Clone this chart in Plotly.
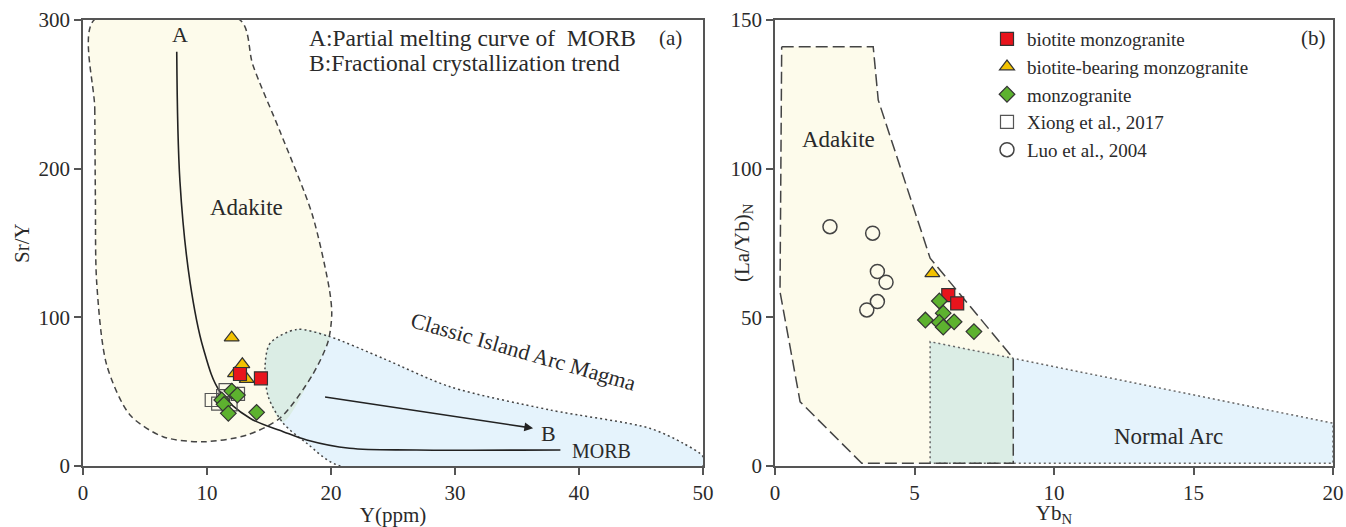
import plotly.graph_objects as go

# ---------------- data: left panel (Sr/Y vs Y) ----------------
a_bm_y = [12.66, 14.35]
a_bm_sry = [61.9, 59.0]
a_bbm_y = [11.99, 12.85, 12.26, 13.2]
a_bbm_sry = [86.3, 68.4, 62.3, 58.5]
a_m_y = [12.0, 12.45, 11.19, 11.37, 11.72, 14.0]
a_m_sry = [50.4, 47.7, 44.4, 41.5, 35.4, 36.1]
a_x_y = [10.38, 11.5, 10.9, 11.9, 11.3, 12.5]
a_x_sry = [44.4, 51.0, 42.0, 41.5, 47.0, 48.5]

adk_a_x = [0.89, 0.95, 1.0, 1.10, 1.91, 3.79, 6.45, 9.68, 13.2, 15.9, 18.5, 19.76, 20.06, 19.9, 18.5, 15.9, 13.7, 12.66]
adk_a_y = [300, 240, 180, 124, 68, 34.3, 19.7, 16.3, 20.8, 32.3, 61.2, 83.6, 101.5, 117.2, 168.8, 224.8, 269.7, 300]
arc_a_x = [17.23, 15.08, 14.68, 14.94, 16.15, 18.04, 20.73, 50, 50, 48.4, 45.7, 37.66, 29.6, 24.2, 19.9]
arc_a_y = [91.9, 82.5, 66.8, 46.6, 28.7, 15.3, 0, 0, 6.3, 15.3, 25.4, 37.7, 53.3, 72.4, 87]
ovl_a_x = [19.9, 17.23, 15.08, 14.68, 14.94, 16.1, 18.5, 19.76, 19.9]
ovl_a_y = [87, 91.9, 82.5, 66.8, 46.6, 29.5, 61.2, 83.6, 87]
morb_x = [7.56, 7.82, 8.63, 9.70, 11.05, 13.47, 16.15, 18.04, 21.5, 26.9, 38.5]
morb_y = [278.6, 191.2, 123.9, 79.2, 50, 32.1, 23.1, 17.5, 11.9, 10.8, 10.8]
trend_b = [(19.4, 46.6), (36.3, 25.4)]

# ---------------- data: right panel ((La/Yb)N vs YbN) ----------------
b_bm_x = [6.21, 6.53]
b_bm_y = [57.5, 54.7]
b_bbm_x = [5.64]
b_bbm_y = [64.8]
b_m_x = [5.89, 6.03, 5.39, 5.89, 6.03, 6.42, 7.13]
b_m_y = [55.5, 51.4, 49.1, 48.3, 46.7, 48.5, 45.2]
b_l_x = [1.97, 3.50, 3.67, 3.98, 3.67, 3.29]
b_l_y = [80.5, 78.3, 65.4, 61.8, 55.3, 52.5]

adk_b_x = [0.24, 3.52, 3.70, 5.56, 8.54, 8.54, 3.11, 0.90, 0.18, 0.24]
adk_b_y = [141, 141, 123.1, 69.9, 36.2, 0.9, 0.9, 21.6, 58.6, 141]
arc_b_x = [5.56, 5.56, 8.54, 20, 20, 5.56]
arc_b_y = [0.9, 41.8, 36.2, 14.4, 0.9, 0.9]
ovl_b_x = [5.56, 5.56, 8.54, 8.54, 5.56]
ovl_b_y = [0.9, 41.8, 36.2, 0.9, 0.9]

FONT = "Liberation Serif"
TXT = "#2a2a2a"
YEL = "#fdfbeb"
BLU = "#e5f3fc"
GRN = "#dbede5"
EDGE = "#444444"
RED = "#e8141c"
GOLD = "#f2c200"
GREEN = "#5db22f"
MK = "#333333"

fig = go.Figure()

def closed(xs, ys):
    return list(xs) + [xs[0]], list(ys) + [ys[0]]

# ---- left panel regions ----
ax_, ay_ = closed(adk_a_x, adk_a_y)
cx_, cy_ = closed(arc_a_x, arc_a_y)
fig.add_trace(go.Scatter(x=ax_, y=ay_, mode="lines", fill="toself", fillcolor=YEL,
                         line=dict(width=0, shape="spline", smoothing=0.8), hoverinfo="skip",
                         showlegend=False, xaxis="x", yaxis="y"))
fig.add_trace(go.Scatter(x=cx_, y=cy_, mode="lines", fill="toself", fillcolor=BLU,
                         line=dict(width=0, shape="spline", smoothing=0.8), hoverinfo="skip",
                         showlegend=False, xaxis="x", yaxis="y"))
fig.add_trace(go.Scatter(x=ovl_a_x, y=ovl_a_y, mode="lines", fill="toself", fillcolor=GRN,
                         line=dict(width=0, shape="spline", smoothing=0.8), hoverinfo="skip",
                         showlegend=False, xaxis="x", yaxis="y"))
fig.add_trace(go.Scatter(x=ax_, y=ay_, mode="lines",
                         line=dict(width=1.5, color=EDGE, dash="6px,4px", shape="spline", smoothing=0.8),
                         hoverinfo="skip", showlegend=False, xaxis="x", yaxis="y"))
fig.add_trace(go.Scatter(x=cx_, y=cy_, mode="lines",
                         line=dict(width=1.5, color=EDGE, dash="2px,3px", shape="spline", smoothing=0.8),
                         hoverinfo="skip", showlegend=False, xaxis="x", yaxis="y"))
fig.add_trace(go.Scatter(x=morb_x, y=morb_y, mode="lines",
                         line=dict(width=1.6, color="#222222", shape="spline", smoothing=1.0),
                         hoverinfo="skip", showlegend=False, xaxis="x", yaxis="y"))

# ---- right panel regions ----
fig.add_trace(go.Scatter(x=adk_b_x, y=adk_b_y, mode="lines", fill="toself", fillcolor=YEL,
                         line=dict(width=0), hoverinfo="skip", showlegend=False, xaxis="x2", yaxis="y2"))
fig.add_trace(go.Scatter(x=arc_b_x, y=arc_b_y, mode="lines", fill="toself", fillcolor=BLU,
                         line=dict(width=0), hoverinfo="skip", showlegend=False, xaxis="x2", yaxis="y2"))
fig.add_trace(go.Scatter(x=ovl_b_x, y=ovl_b_y, mode="lines", fill="toself", fillcolor=GRN,
                         line=dict(width=0), hoverinfo="skip", showlegend=False, xaxis="x2", yaxis="y2"))
fig.add_trace(go.Scatter(x=arc_b_x, y=arc_b_y, mode="lines",
                         line=dict(width=1.5, color="#666666", dash="2px,3px"),
                         hoverinfo="skip", showlegend=False, xaxis="x2", yaxis="y2"))
fig.add_trace(go.Scatter(x=adk_b_x, y=adk_b_y, mode="lines",
                         line=dict(width=1.5, color=EDGE, dash="12px,5px"),
                         hoverinfo="skip", showlegend=False, xaxis="x2", yaxis="y2"))

# ---- markers ----
def mk(symbol, color, size, lw=1.2, lc=MK):
    return dict(symbol=symbol, color=color, size=size, line=dict(width=lw, color=lc))

# left
fig.add_trace(go.Scatter(x=a_x_y, y=a_x_sry, mode="markers", marker=mk("square-open", "#555555", 13, 1.2, "#555555"),
                         showlegend=False, xaxis="x", yaxis="y"))
fig.add_trace(go.Scatter(x=a_m_y, y=a_m_sry, mode="markers", marker=mk("diamond", GREEN, 12),
                         showlegend=False, xaxis="x", yaxis="y"))
fig.add_trace(go.Scatter(x=a_bbm_y, y=a_bbm_sry, mode="markers", marker=mk("triangle-up", GOLD, 13),
                         showlegend=False, xaxis="x", yaxis="y"))
fig.add_trace(go.Scatter(x=a_bm_y, y=a_bm_sry, mode="markers", marker=mk("square", RED, 13),
                         showlegend=False, xaxis="x", yaxis="y"))
# right
fig.add_trace(go.Scatter(x=b_bm_x, y=b_bm_y, mode="markers", marker=mk("square", RED, 13),
                         name="biotite monzogranite", xaxis="x2", yaxis="y2"))
fig.add_trace(go.Scatter(x=b_bbm_x, y=b_bbm_y, mode="markers", marker=mk("triangle-up", GOLD, 13),
                         name="biotite-bearing monzogranite", xaxis="x2", yaxis="y2"))
fig.add_trace(go.Scatter(x=b_m_x, y=b_m_y, mode="markers", marker=mk("diamond", GREEN, 12),
                         name="monzogranite", xaxis="x2", yaxis="y2"))
fig.add_trace(go.Scatter(x=[None], y=[None], mode="markers", marker=mk("square-open", "#555555", 13, 1.2, "#555555"),
                         name="Xiong et al., 2017", xaxis="x2", yaxis="y2"))
fig.add_trace(go.Scatter(x=b_l_x, y=b_l_y, mode="markers", marker=mk("circle-open", "#444444", 14, 1.5, "#444444"),
                         name="Luo et al., 2004", xaxis="x2", yaxis="y2"))

axis_common = dict(showline=True, linecolor="#555555", linewidth=1.8, mirror=True,
                   ticks="outside", ticklen=7, tickwidth=1.5, tickcolor="#555555",
                   showgrid=False, zeroline=False, automargin=False,
                   tickfont=dict(family=FONT, size=21, color=TXT),
                   title_font=dict(family=FONT, size=21, color=TXT))

fig.update_layout(
    width=1346, height=527,
    margin=dict(l=83, r=13, t=20, b=61),
    paper_bgcolor="white", plot_bgcolor="white",
    font=dict(family=FONT, color=TXT),
    xaxis=dict(domain=[0, 0.496], range=[0, 50], tickvals=[0, 10, 20, 30, 40, 50],
               title=dict(text="Y(ppm)", standoff=6), **axis_common),
    yaxis=dict(domain=[0, 1], range=[0, 300], tickvals=[0, 100, 200, 300], **axis_common),
    xaxis2=dict(domain=[0.5536, 1], range=[0, 20], tickvals=[0, 5, 10, 15, 20], anchor="y2",
                title=dict(text="Yb<sub>N</sub>", standoff=6), **axis_common),
    yaxis2=dict(domain=[0, 1], range=[0, 150], tickvals=[0, 50, 100, 150], anchor="x2", **axis_common),
    legend=dict(x=0.7232, y=1.0, xanchor="left", yanchor="top", bgcolor="rgba(0,0,0,0)",
                font=dict(family=FONT, size=19, color=TXT), tracegroupgap=0),
)

ann = []
def t(x, y, s, size=22, xref="x", yref="y", angle=0, xanchor="center"):
    ann.append(dict(x=x, y=y, text=s, xref=xref, yref=yref, showarrow=False, textangle=angle,
                    xanchor=xanchor, font=dict(family=FONT, size=size, color=TXT)))

t(7.8, 290, "A", 22)
t(13.2, 174, "Adakite", 23)
t(18.1, 288, "A:Partial melting curve of  MORB", 23.5, xanchor="left")
t(18.1, 271, "B:Fractional crystallization trend", 23.5, xanchor="left")
t(47.4, 288, "(a)", 21)
t(35.5, 77, "Classic Island Arc Magma", 22, angle=16)
t(37.5, 22, "B", 22)
t(41.8, 10, "MORB", 20)
t(2.27, 109.7, "Adakite", 23, xref="x2", yref="y2")
t(14.1, 9.9, "Normal Arc", 23, xref="x2", yref="y2")
t(19.3, 144, "(b)", 21, xref="x2", yref="y2")
# y-axis titles (placed close to the axes as in the reference)
t(-0.0488, 0.5, "Sr/Y", 21, xref="paper", yref="paper", angle=-90)
t(0.528, 0.5, "(La/Yb)<sub>N</sub>", 21, xref="paper", yref="paper", angle=-90)
ann.append(dict(x=trend_b[1][0], y=trend_b[1][1], ax=trend_b[0][0], ay=trend_b[0][1],
                xref="x", yref="y", axref="x", ayref="y", showarrow=True,
                arrowhead=2, arrowsize=1.1, arrowwidth=1.6, arrowcolor="#222222", text=""))
fig.update_layout(annotations=ann)

fig.write_html("out.html", config={"displayModeBar": False},
               post_script="document.body.style.margin='0';document.body.style.overflow='hidden';")
